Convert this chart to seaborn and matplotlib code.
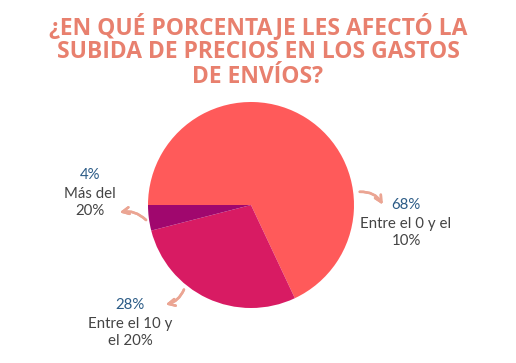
import matplotlib
matplotlib.use("Agg")
import matplotlib.pyplot as plt
import seaborn as sns

# datos
categorias = ["Entre el 0 y el\n10%", "Entre el 10 y\nel 20%", "Más del\n20%"]
porcentajes = [68, 28, 4]
colores = ["#FF5A5A", "#D81B63", "#A0076E"]

titulo = "¿EN QUÉ PORCENTAJE LES AFECTÓ LA\nSUBIDA DE PRECIOS EN LOS GASTOS\nDE ENVÍOS?"

sns.set_theme(style="white")
plt.rcParams["font.family"] = ["Lato", "DejaVu Sans"]

W, H = 516, 363
fig = plt.figure(figsize=(W / 100, H / 100), dpi=100)

# pie centrado en (251, 205) px, radio ~103 px
cx, cy, r = 251, 205, 103
ax = fig.add_axes([(cx - r) / W, (H - cy - r) / H, 2 * r / W, 2 * r / H])
ax.pie(porcentajes, colors=colores, startangle=180, counterclock=False,
       wedgeprops=dict(linewidth=0))
ax.set_xlim(-1, 1)
ax.set_ylim(-1, 1)
ax.set_aspect("equal")
ax.axis("off")

fig.text(0.5, 1 - 51 / H, titulo, ha="center", va="center", fontsize=16.5,
         fontweight="bold", color="#E8806E", linespacing=1.02,
         family=["Open Sans", "DejaVu Sans"])

# etiquetas (posición en px de la imagen)
pos_etiquetas = [(406, 205), (130, 305), (90, 175)]
for cat, val, (x, y) in zip(categorias, porcentajes, pos_etiquetas):
    fig.text(x / W, 1 - y / H, f"{val}%", ha="center", va="center",
             fontsize=10.8, color="#2B5B86")
    fig.text(x / W, 1 - (y + 12) / H, cat, ha="center", va="top",
             fontsize=10.8, color="#444444", linespacing=1.3)

# flechas curvas
flechas = [((357, 192), (384, 207), -0.35),
           ((185, 287), (163, 305), -0.3),
           ((148, 222), (117, 213), 0.3)]
for (x0, y0), (x1, y1), rad in flechas:
    fig.add_artist(plt.annotate("", xy=(x1, H - y1), xytext=(x0, H - y0),
                                xycoords="figure pixels", textcoords="figure pixels",
                                arrowprops=dict(arrowstyle="->", color="#EBA593", lw=1.8,
                                                connectionstyle=f"arc3,rad={rad}")))

fig.savefig("out.png", dpi=100)
